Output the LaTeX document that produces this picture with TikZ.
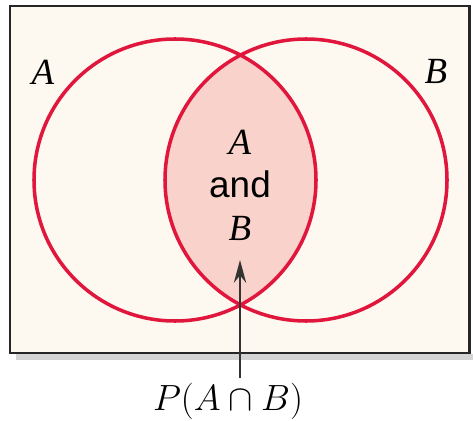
\documentclass[tikz,border=0pt]{standalone}
\usepackage{fontspec}
\setmainfont{Liberation Serif}
\newfontfamily\andfont{Liberation Sans}
\usetikzlibrary{arrows.meta}
\definecolor{bgcream}{HTML}{FDF8F0}
\definecolor{vennred}{HTML}{E0163C}
\definecolor{lenspink}{HTML}{F9D2CB}
\definecolor{shadowgray}{HTML}{D4D4D4}
\tikzset{
  venncircle/.style={draw=vennred, line width=2pt},
  setlabel/.style={font=\fontsize{21}{23}\selectfont\itshape, inner sep=0pt},
  andlabel/.style={font=\andfont\fontsize{21}{23}\selectfont, inner sep=0pt},
}
\begin{document}
\begin{tikzpicture}[x=0.2mm,y=-0.2mm]
\useasboundingbox (0,0) rectangle (473,421);
% shadow
\fill[shadowgray] (16,354) rectangle (473,360);
% frame
\fill[bgcream] (10,6) rectangle (469,353);
% lens
\begin{scope}
  \clip (175,180) circle[radius=141];
  \fill[lenspink] (306,180) circle[radius=141];
\end{scope}
\draw[venncircle] (175,180) circle[radius=141];
\draw[venncircle] (306,180) circle[radius=141];
\draw[black!85, line width=1.7pt] (10,6) rectangle (469,353);
% labels
\node[setlabel] (la) at (43,72) {A};
\node[setlabel] (lb) at (436,71) {B};
\node[setlabel] (ca) at (240,142) {A};
\node[andlabel] (cand) at (240,184) {and};
\node[setlabel] (cb) at (240,228) {B};
\node[font=\fontsize{20}{22}\selectfont, inner sep=0pt] (p) at (228,401) {$P(A\cap B)$};
\coordinate (tail) at (240,378);
\coordinate (tip) at (240,260);
\draw[black!80, line width=1.2pt, -{Stealth[length=13pt,width=7pt]}] (tail) -- (tip);
\end{tikzpicture}
\end{document}
